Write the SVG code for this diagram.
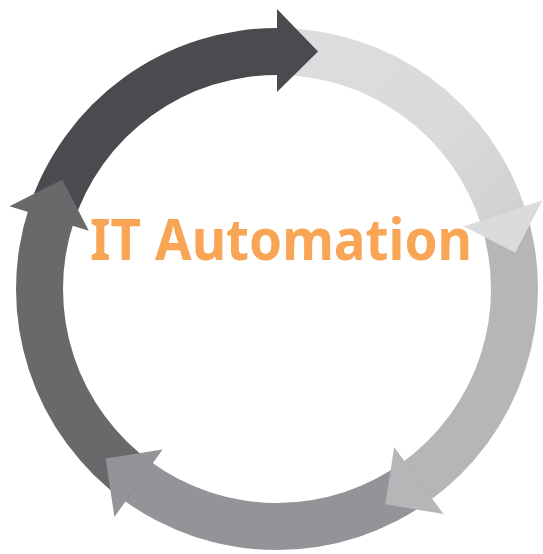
<svg xmlns="http://www.w3.org/2000/svg" width="543" height="554" viewBox="0 0 543 554">
  <style>
    .a1 { fill: #4a4b4e; }
    .a2 { fill: #dadbdd; }
    .a3 { fill: #b5b6b8; }
    .a4 { fill: #939498; }
    .a5 { fill: #69696c; }
    .title { font-family: "Noto Sans", "Open Sans", "Liberation Sans", sans-serif; font-weight: 700; font-size: 57px; fill: #f8a556; }
  </style>
  <defs>
    <linearGradient id="g2" gradientUnits="userSpaceOnUse" x1="290" y1="30" x2="520" y2="230">
      <stop offset="0" stop-color="#dcdddf"/>
      <stop offset="0.6" stop-color="#d9dadc"/>
      <stop offset="1" stop-color="#cfd0d2"/>
    </linearGradient>
  </defs>
  <rect width="543" height="554" fill="#ffffff"/>
  <g id="connectors">
    <g id="arrow-bodies">
      <path id="body-1" class="a1" d="M27.67,211.82 A261,261 0 0 1 281.56,28.04 L280.73,75.03 A214,214 0 0 0 72.57,225.72 Z"/>
      <path id="body-2" style="fill:url(#g2)" d="M277,28 A261,261 0 0 1 525.92,210.51 L481.10,224.65 A214,214 0 0 0 277,75 Z"/>
      <path id="body-3" class="a3" d="M524.51,206.18 A261,261 0 0 1 428.56,501.49 L401.27,463.22 A214,214 0 0 0 479.94,221.10 Z"/>
      <path id="body-4" class="a4" d="M432.25,498.81 A261,261 0 0 1 121.75,498.81 L149.71,461.03 A214,214 0 0 0 404.29,461.03 Z"/>
      <path id="body-5" class="a5" d="M125.44,501.49 A261,261 0 0 1 29.06,207.48 L73.71,222.16 A214,214 0 0 0 152.73,463.22 Z"/>
    </g>
    <g id="arrow-heads">
      <polygon id="head-1" class="a1" points="277,9 318.02,51.52 277,92"/>
      <polygon id="head-2" class="a2" points="542.53,200.16 515.23,252.55 463.82,226.49"/>
      <polygon id="head-3" class="a3" points="443.55,514.08 385.29,504.30 394.18,447.36"/>
      <polygon id="head-4" class="a4" points="114.40,516.95 105.70,458.52 162.60,449.38"/>
      <polygon id="head-5" class="a5" points="9.52,206.20 62.27,179.59 88.81,230.75"/>
    </g>
  </g>
  <g id="title-node">
    <text class="title" x="281" y="260" text-anchor="middle" textLength="382" lengthAdjust="spacingAndGlyphs">IT Automation</text>
  </g>
</svg>
